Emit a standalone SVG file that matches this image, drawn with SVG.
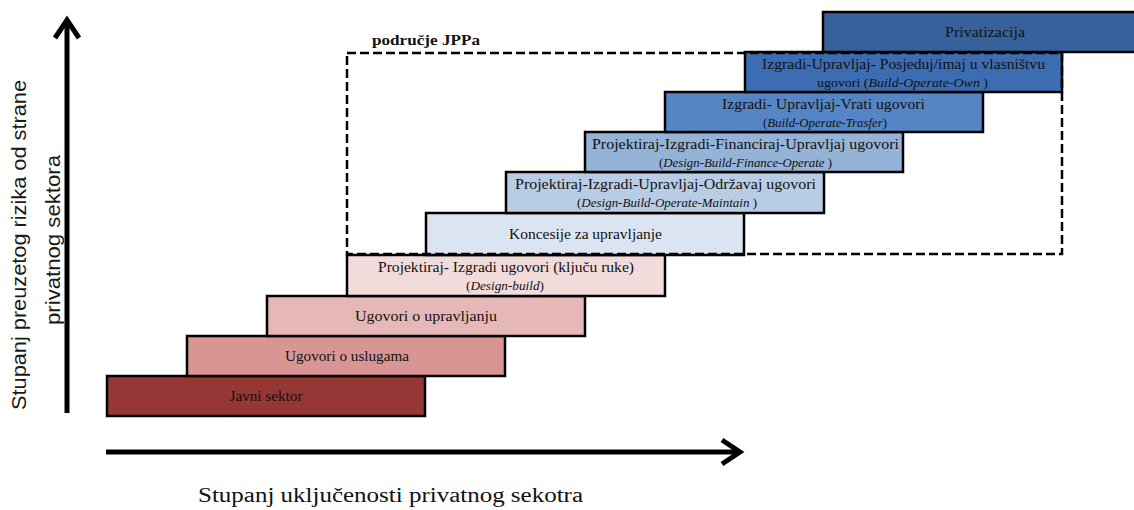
<svg xmlns="http://www.w3.org/2000/svg" width="1134" height="510" viewBox="0 0 1134 510">
<defs>
<style>
.box{stroke:#000;stroke-width:2.5}
.t{font-family:"Liberation Serif","Times New Roman",serif;font-size:14px;fill:#111;text-anchor:middle}
.ti{font-family:"Liberation Serif","Times New Roman",serif;font-size:12.5px;fill:#111;text-anchor:middle}
.it{font-style:italic}
.ax{font-family:"Liberation Sans",Arial,sans-serif;font-size:21px;fill:#1a1a1a;text-anchor:middle}
.axis{stroke:#000;stroke-width:5;fill:none}
</style>
<marker id="arrow" viewBox="0 0 30 30" markerWidth="30" markerHeight="30" refX="22" refY="15" orient="auto" markerUnits="userSpaceOnUse" overflow="visible">
<path d="M 4 3 L 22 15 L 4 27" fill="none" stroke="#000" stroke-width="5" stroke-linejoin="miter"/>
</marker>
</defs>
<rect width="1134" height="510" fill="#fff"/>

<g id="javni-sektor">
<rect class="box" x="107" y="376" width="318" height="40" fill="#953735"/>
<text class="t" x="266" y="401" textLength="73" lengthAdjust="spacingAndGlyphs">Javni sektor</text>
</g>
<g id="ugovori-o-uslugama">
<rect class="box" x="187" y="336" width="318" height="40" fill="#d99594"/>
<text class="t" x="347" y="361" textLength="124" lengthAdjust="spacingAndGlyphs">Ugovori o uslugama</text>
</g>
<g id="ugovori-o-upravljanju">
<rect class="box" x="267" y="296" width="318" height="40" fill="#e5b8b7"/>
<text class="t" x="426" y="321" textLength="142" lengthAdjust="spacingAndGlyphs">Ugovori o upravljanju</text>
</g>
<g id="design-build">
<rect class="box" x="347" y="255" width="318" height="41" fill="#f2dcdb"/>
<text class="t" x="506" y="272" textLength="256" lengthAdjust="spacingAndGlyphs">Projektiraj- Izgradi ugovori (ključu ruke)</text>
<text class="ti" x="505" y="290" textLength="78" lengthAdjust="spacingAndGlyphs">(<tspan class="it">Design-build</tspan>)</text>
</g>
<g id="koncesije">
<rect class="box" x="426" y="213" width="318" height="42" fill="#dbe5f1"/>
<text class="t" x="585.5" y="239" textLength="153" lengthAdjust="spacingAndGlyphs">Koncesije za upravljanje</text>
</g>
<g id="dbom">
<rect class="box" x="506" y="172" width="318" height="41" fill="#b8cce4"/>
<text class="t" x="665.5" y="189" textLength="301" lengthAdjust="spacingAndGlyphs">Projektiraj-Izgradi-Upravljaj-Održavaj ugovori</text>
<text class="ti" x="667" y="207" textLength="180" lengthAdjust="spacingAndGlyphs">(<tspan class="it">Design-Build-Operate-Maintain</tspan> )</text>
</g>
<g id="dbfo">
<rect class="box" x="585" y="132" width="318" height="40" fill="#95b3d7"/>
<text class="t" x="745.5" y="149" textLength="307" lengthAdjust="spacingAndGlyphs">Projektiraj-Izgradi-Financiraj-Upravljaj ugovori</text>
<text class="ti" x="745.5" y="167" textLength="173" lengthAdjust="spacingAndGlyphs">(<tspan class="it">Design-Build-Finance-Operate</tspan> )</text>
</g>
<g id="bot">
<rect class="box" x="665" y="92" width="318" height="40" fill="#5585c4"/>
<text class="t" x="823.5" y="109" textLength="203" lengthAdjust="spacingAndGlyphs">Izgradi- Upravljaj-Vrati ugovori</text>
<text class="ti" x="825" y="127" textLength="124" lengthAdjust="spacingAndGlyphs">(<tspan class="it">Build-Operate-Trasfer</tspan>)</text>
</g>
<g id="boo">
<rect class="box" x="745" y="52" width="317" height="40" fill="#3c6db2"/>
<text class="t" x="903.5" y="69" textLength="283" lengthAdjust="spacingAndGlyphs">Izgradi-Upravljaj- Posjeduj/imaj u vlasništvu</text>
<text class="ti" x="902.5" y="87" textLength="171" lengthAdjust="spacingAndGlyphs">ugovori (<tspan class="it">Build-Operate-Own</tspan> )</text>
</g>
<g id="privatizacija">
<rect class="box" x="823" y="12" width="330" height="40" fill="#37619a"/>
<text class="t" x="985" y="37" textLength="80" lengthAdjust="spacingAndGlyphs">Privatizacija</text>
</g>

<g id="jppa-podrucje">
<rect x="347" y="53" width="715" height="201" fill="none" stroke="#000" stroke-width="2.5" stroke-dasharray="9 4"/>
<text x="372" y="45" font-family="'Liberation Serif','Times New Roman',serif" font-size="15" font-weight="bold" fill="#111" textLength="108" lengthAdjust="spacingAndGlyphs">područje JPPa</text>
</g>

<g id="connectors">
<line class="axis" x1="67" y1="413" x2="67" y2="20" marker-end="url(#arrow)"/>
<line class="axis" x1="106" y1="452" x2="740" y2="452" marker-end="url(#arrow)"/>
</g>

<g id="axis-labels">
<text class="ax" transform="translate(26,245) rotate(-90)" textLength="330" lengthAdjust="spacingAndGlyphs">Stupanj preuzetog rizika od strane</text>
<text class="ax" transform="translate(60,240) rotate(-90)" textLength="170" lengthAdjust="spacingAndGlyphs">privatnog sektora</text>
<text x="198" y="502" font-family="'Liberation Serif','Times New Roman',serif" font-size="20" fill="#111" textLength="385" lengthAdjust="spacingAndGlyphs">Stupanj uključenosti privatnog sekotra</text>
</g>
</svg>
